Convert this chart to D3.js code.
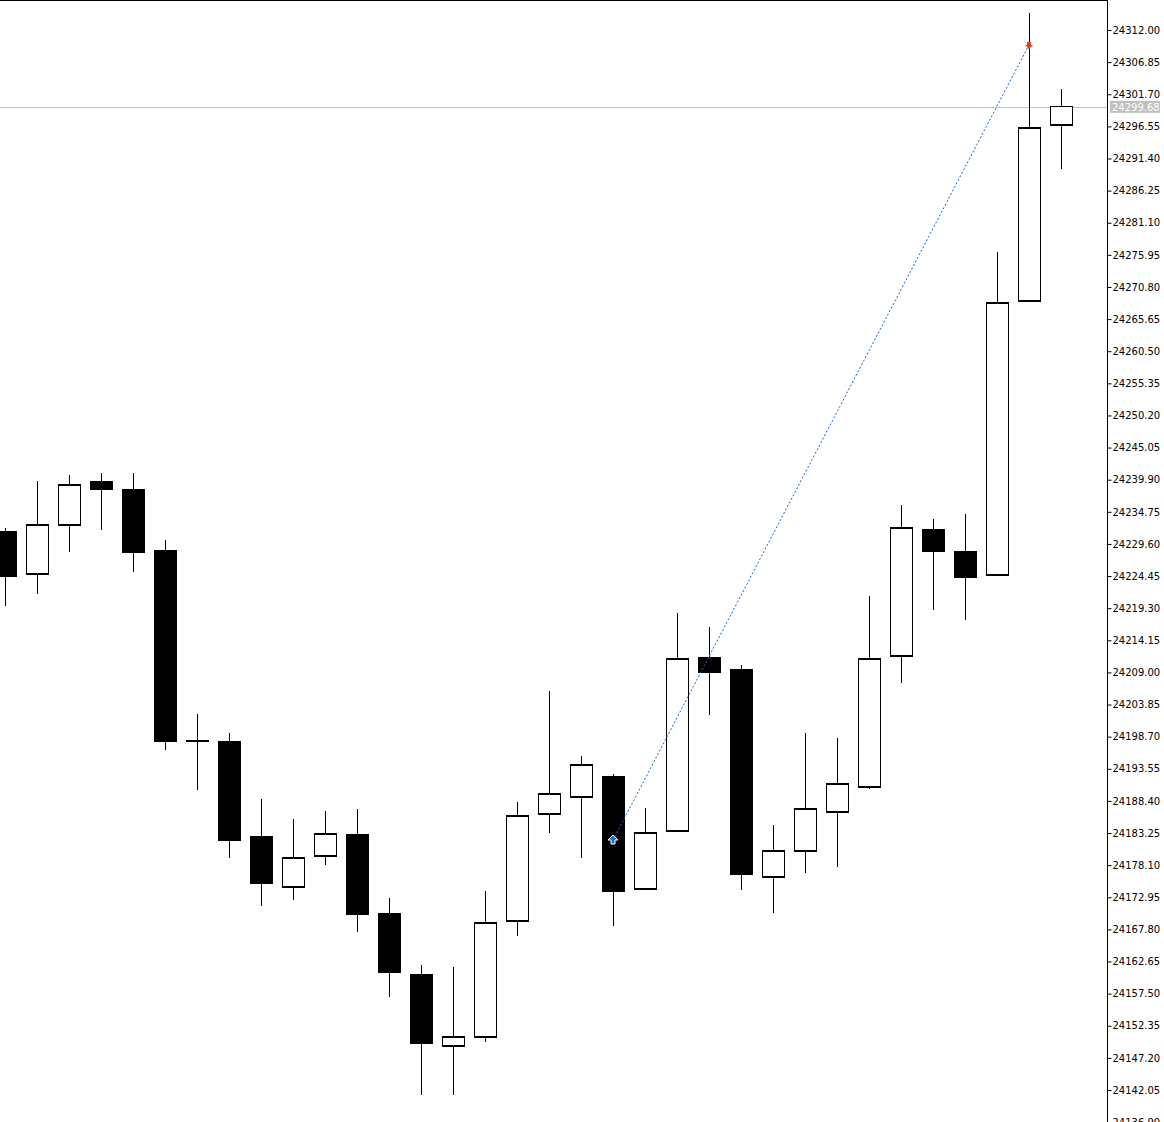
<!DOCTYPE html>
<html>
<head>
<meta charset="utf-8">
<script src="https://cdn.jsdelivr.net/npm/d3@7"></script>
<style>
  body { margin: 0; background: #fff; }
  svg { display: block; }
  .axis text { font-family: "DejaVu Sans", sans-serif; font-size: 10px; fill: #000; }
</style>
</head>
<body>
<div id="chart"></div>
<script>
// OHLC values
const opens  = [24231.51,24224.78,24232.64,24239.53,24238.25,24228.47,24198.00,24197.84,24182.61,24174.60,24179.57,24182.93,24170.27,24160.49,24149.10,24150.55,24169.14,24186.30,24189.03,24192.23,24174.28,24183.58,24211.31,24209.39,24176.20,24180.37,24186.62,24190.63,24211.63,24231.84,24228.31,24224.62,24268.55,24296.77];
const closes = [24224.46,24232.64,24239.05,24238.41,24228.31,24198.00,24198.10,24182.13,24175.24,24179.25,24183.09,24170.27,24160.97,24149.59,24150.55,24168.83,24185.98,24189.51,24194.16,24173.96,24183.25,24211.15,24209.07,24176.68,24180.37,24187.10,24191.11,24211.15,24232.16,24228.47,24224.30,24268.23,24296.29,24299.68];
const highs  = [24232.16,24239.69,24240.65,24240.97,24240.97,24230.23,24202.33,24199.29,24188.70,24185.50,24186.78,24187.10,24172.83,24162.09,24161.77,24173.96,24188.22,24206.02,24195.60,24192.71,24187.26,24218.53,24216.28,24210.19,24184.54,24199.29,24198.49,24221.25,24235.84,24233.60,24234.40,24276.41,24314.73,24302.54];
const lows   = [24219.65,24221.57,24228.31,24231.84,24225.10,24196.56,24190.15,24179.25,24171.55,24172.51,24178.13,24167.38,24156.96,24141.25,24141.25,24149.75,24166.74,24183.25,24179.25,24168.34,24174.28,24183.58,24202.17,24174.12,24170.43,24176.84,24177.80,24190.31,24207.30,24219.01,24217.41,24224.62,24268.55,24289.71];
const priceTicks = [24136.90,24142.05,24147.20,24152.35,24157.50,24162.65,24167.80,24172.95,24178.10,24183.25,24188.40,24193.55,24198.70,24203.85,24209.00,24214.15,24219.30,24224.45,24229.60,24234.75,24239.90,24245.05,24250.20,24255.35,24260.50,24265.65,24270.80,24275.95,24281.10,24286.25,24291.40,24296.55,24301.70,24306.85,24312.00];
const bidPrice = 24299.68;
const trade = { openIdx: 19, openPrice: 24182.13, closeIdx: 32, closePrice: 24309.60 };

const W = 1164, H = 1122, axisX = 1107;
const svg = d3.select("#chart").append("svg").attr("width", W).attr("height", H);

const x = d3.scaleLinear().domain([0, opens.length - 1]).range([5, 1061]);
const y = d3.scaleLinear().domain([24142.05, 24312.00]).range([1090, 30]);
const bw = 22;

// frame
svg.append("line").attr("x1", 0).attr("x2", axisX).attr("y1", 0.5).attr("y2", 0.5).attr("stroke", "#000");

// bid line
svg.append("line").attr("x1", 0).attr("x2", axisX).attr("y1", Math.round(y(bidPrice)) + 0.5).attr("y2", Math.round(y(bidPrice)) + 0.5)
  .attr("stroke", "#c0c0c0");

// candles
const g = svg.append("g").attr("shape-rendering", "crispEdges");
opens.forEach((o, i) => {
  const c = closes[i], cx = Math.round(x(i)) + 0.5;
  const bull = c >= o;
  g.append("line").attr("x1", cx).attr("x2", cx).attr("y1", y(highs[i])).attr("y2", y(lows[i])).attr("stroke", "#000");
  const top = y(Math.max(o, c)), bot = y(Math.min(o, c));
  g.append("rect").attr("x", cx - bw / 2).attr("y", top).attr("width", bw).attr("height", Math.max(1, bot - top))
    .attr("fill", bull ? "#fff" : "#000").attr("stroke", "#000").attr("stroke-width", 1.3);
});

// trade line
svg.append("line")
  .attr("x1", x(trade.openIdx)).attr("y1", y(trade.openPrice))
  .attr("x2", x(trade.closeIdx)).attr("y2", y(trade.closePrice))
  .attr("stroke", "#1565c0").attr("stroke-dasharray", "2,2");
const bx = x(trade.openIdx), by = y(trade.openPrice);
svg.append("path").attr("d", `M${bx},${by - 5} L${bx + 5},${by} L${bx + 2},${by} L${bx + 2},${by + 4} L${bx - 2},${by + 4} L${bx - 2},${by} L${bx - 5},${by} Z`)
  .attr("fill", "#1e6fd9").attr("stroke", "#fff").attr("stroke-width", 1);
const sx = x(trade.closeIdx), sy = y(trade.closePrice);
svg.append("path").attr("d", `M${sx},${sy + 4} L${sx + 4},${sy} L${sx + 2},${sy} L${sx + 2},${sy - 3} L${sx - 2},${sy - 3} L${sx - 2},${sy} L${sx - 4},${sy} Z`)
  .attr("fill", "#e8401c");

// price axis
const axis = svg.append("g").attr("class", "axis").attr("transform", `translate(${axisX + 0.5},0)`)
  .call(d3.axisRight(y).tickValues(priceTicks).tickFormat(d3.format(".2f")).tickSize(4).tickPadding(1));
axis.select(".domain").attr("d", `M0,0V${H}`);

// bid label
const by2 = y(bidPrice);
svg.append("rect").attr("x", axisX + 3).attr("y", by2 - 6).attr("width", 50).attr("height", 12).attr("fill", "#c0c0c0");
svg.append("text").attr("x", axisX + 5).attr("y", by2 + 4).text(bidPrice.toFixed(2))
  .attr("font-family", "DejaVu Sans, sans-serif").attr("font-size", 10).attr("fill", "#fff");
</script>
</body>
</html>
